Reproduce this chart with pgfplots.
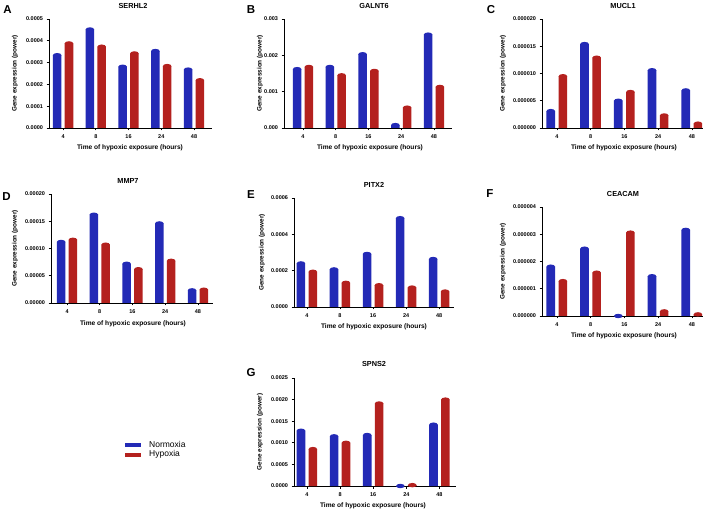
\documentclass[border=0pt]{standalone}
\usepackage{fontspec}
\setmainfont{Liberation Sans}
\usepackage{pgfplots}
\usepackage{pgfplotstable}
\pgfplotsset{compat=1.18}
\definecolor{nblue}{RGB}{35,42,182}
\definecolor{hred}{RGB}{180,33,30}
\pgfdeclareplotmark{dome}{\pgfpathellipse{\pgfpointorigin}{\pgfpoint{4.3pt}{0pt}}{\pgfpoint{0pt}{2.2pt}}\pgfusepathqfill}

% columns: t = category index, n = normoxia, h = hypoxia
\pgfplotstableread{
t n h
0 0.000334 0.000388
1 0.000452 0.000373
2 0.000281 0.000342
3 0.000353 0.000284
4 0.000268 0.000219
}\serhl
\pgfplotstableread{
t n h
0 0.00162 0.00168
1 0.00168 0.00145
2 0.00203 0.00157
3 0.00008 0.00056
4 0.00257 0.00113
}\galnt
\pgfplotstableread{
t n h
0 0.0000031 0.0000095
1 0.0000154 0.0000129
2 0.0000050 0.0000066
3 0.0000106 0.0000023
4 0.0000069 0.0000008
}\mucl
\pgfplotstableread{
t n h
0 0.000112 0.000116
1 0.000162 0.000107
2 0.000072 0.000062
3 0.000146 0.0000774
4 0.0000232 0.0000244
}\mmp
\pgfplotstableread{
t n h
0 0.000240 0.000194
1 0.000207 0.000133
2 0.000292 0.000120
3 0.000489 0.000107
4 0.000264 0.000085
}\pitx
\pgfplotstableread{
t n h
0 0.00000181 0.00000128
1 0.00000247 0.00000159
2 0.0 0.00000306
3 0.00000146 0.00000017
4 0.00000316 0.00000006
}\ceacam
\pgfplotstableread{
t n h
0 0.00128 0.000854
1 0.00115 0.00100
2 0.00118 0.00191
3 0.0 0.00002
4 0.00142 0.00200
}\spns

\pgfplotsset{
  panel/.style={
    scale only axis, anchor=south west,
    axis lines=left, axis line style={-, line width=0.8pt},
    tick style={black, line width=0.7pt},
    tick align=outside, major tick length=2.5pt,
    xtick={0,1,2,3,4}, xticklabels={4,8,16,24,48},
    ymin=0, clip=false, scaled y ticks=false,
    ticklabel style={font=\fontsize{5.5}{6}\selectfont\bfseries},
    /pgf/number format/assume math mode=true,
    xticklabel style={yshift=-0.5pt},
  },
  nbar/.style={ybar, bar width=8.6pt, bar shift=0pt, fill=nblue, draw=none,
    mark=dome, mark options={fill=nblue, draw=none}},
  hbar/.style={ybar, bar width=8.6pt, bar shift=0pt, fill=hred, draw=none,
    mark=dome, mark options={fill=hred, draw=none}},
}
\newcommand{\bars}[1]{%
  \addplot[nbar] table[x expr=\thisrow{t}-0.18, y=n] {#1};
  \addplot[hbar] table[x expr=\thisrow{t}+0.18, y=h] {#1};
}
\tikzset{
  ttl/.style={font=\fontsize{7.3}{8}\selectfont\bfseries},
  let/.style={font=\fontsize{11.5}{12}\selectfont\bfseries},
  yl/.style={font=\fontsize{6.4}{7}\selectfont\bfseries, rotate=90},
  xl/.style={font=\fontsize{6.6}{7}\selectfont\bfseries},
}

\begin{document}
\begin{tikzpicture}[x=1pt,y=1pt]
\path[use as bounding box] (0,0) rectangle (709,514);

% A
\begin{axis}[panel, at={(49pt,386pt)}, width=163pt, height=109pt,
  xmin=-0.43, xmax=4.55, ymax=0.0005,
  ytick={0,0.0001,0.0002,0.0003,0.0004,0.0005},
  yticklabels={0.0000,0.0001,0.0002,0.0003,0.0004,0.0005}]
\bars{\serhl}
\end{axis}
\node[ttl] at (133,508) {SERHL2};
\node[let] at (7.5,504) {A};
\node[yl] at (15,440.5) {Gene expression (power)};
\node[xl] at (130,366) {Time of hypoxic exposure (hours)};

% B
\begin{axis}[panel, at={(284pt,386pt)}, width=168pt, height=109pt,
  xmin=-0.58, xmax=4.55, ymax=0.003,
  ytick={0,0.001,0.002,0.003},
  yticklabels={0.000,0.001,0.002,0.003}]
\bars{\galnt}
\end{axis}
\node[ttl] at (374,508) {GALNT6};
\node[let] at (251,504) {B};
\node[yl] at (260,440.5) {Gene expression (power)};
\node[xl] at (370,366) {Time of hypoxic exposure (hours)};

% C
\begin{axis}[panel, at={(542pt,386pt)}, width=161pt, height=109pt,
  xmin=-0.44, xmax=4.33, ymax=0.00002,
  ytick={0,0.000005,0.00001,0.000015,0.00002},
  yticklabels={0.000000,0.000005,0.000010,0.000015,0.000020}]
\bars{\mucl}
\end{axis}
\node[ttl] at (623,508) {MUCL1};
\node[let] at (491,504) {C};
\node[yl] at (503,440.5) {Gene expression (power)};
\node[xl] at (624,366) {Time of hypoxic exposure (hours)};

% D
\begin{axis}[panel, at={(51pt,211pt)}, width=162pt, height=109pt,
  xmin=-0.49, xmax=4.46, ymax=0.0002,
  ytick={0,0.00005,0.0001,0.00015,0.0002},
  yticklabels={0.00000,0.00005,0.00010,0.00015,0.00020}]
\bars{\mmp}
\end{axis}
\node[ttl] at (128,333) {MMP7};
\node[let] at (6.5,317) {D};
\node[yl] at (15,265.5) {Gene expression (power)};
\node[xl] at (133,190) {Time of hypoxic exposure (hours)};

% E
\begin{axis}[panel, at={(294pt,207pt)}, width=160pt, height=109pt,
  xmin=-0.39, xmax=4.45, ymax=0.0006,
  ytick={0,0.0002,0.0004,0.0006},
  yticklabels={0.0000,0.0002,0.0004,0.0006}]
\bars{\pitx}
\end{axis}
\node[ttl] at (374,329) {PITX2};
\node[let] at (251,319) {E};
\node[yl] at (262,261.5) {Gene expression (power)};
\node[xl] at (374,187) {Time of hypoxic exposure (hours)};

% F
\begin{axis}[panel, at={(542pt,198pt)}, width=161pt, height=109pt,
  xmin=-0.44, xmax=4.33, ymax=0.000004,
  ytick={0,0.000001,0.000002,0.000003,0.000004},
  yticklabels={0.000000,0.000001,0.000002,0.000003,0.000004}]
\bars{\ceacam}
\end{axis}
\node[ttl] at (623,320) {CEACAM};
\node[let] at (490,320) {F};
\node[yl] at (503,252.5) {Gene expression (power)};
\node[xl] at (624,178) {Time of hypoxic exposure (hours)};

% G
\begin{axis}[panel, at={(294pt,28pt)}, width=162pt, height=108pt,
  xmin=-0.39, xmax=4.5, ymax=0.0025,
  ytick={0,0.0005,0.001,0.0015,0.002,0.0025},
  yticklabels={0.0000,0.0005,0.0010,0.0015,0.0020,0.0025}]
\bars{\spns}
\end{axis}
\node[ttl] at (374,150) {SPNS2};
\node[let] at (251,141) {G};
\node[yl] at (260,82) {Gene expression (power)};
\node[xl] at (373,8) {Time of hypoxic exposure (hours)};

% legend
\fill[nblue] (125,67) rectangle (141,71.5);
\fill[hred] (125,57) rectangle (141,61.5);
\node[anchor=west, font=\fontsize{8.5}{9}\selectfont, inner sep=0pt] at (149,69.5) {Normoxia};
\node[anchor=west, font=\fontsize{8.5}{9}\selectfont, inner sep=0pt] at (149,59.5) {Hypoxia};
\end{tikzpicture}
\end{document}
